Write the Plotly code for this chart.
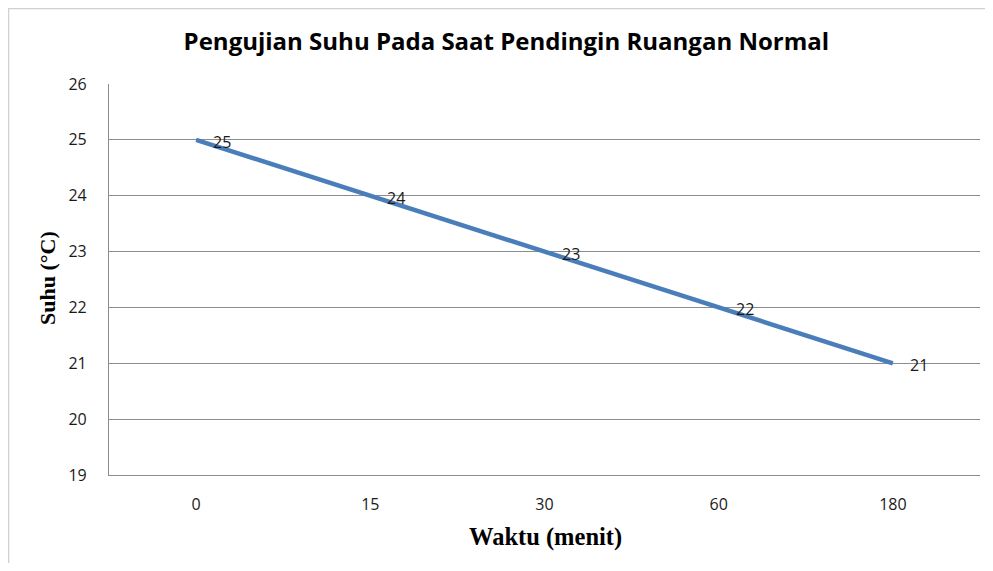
import plotly.graph_objects as go

waktu = ["0", "15", "30", "60", "180"]
suhu = [25, 24, 23, 22, 21]
y_ticks = [19, 20, 21, 22, 23, 24, 25, 26]

# page is rendered with an 8px body margin, so the figure is sized to fit inside
OFF = 8
W, H = 993 - 2 * OFF, 571 - 2 * OFF
L, T = 109 - OFF, 84 - OFF
R = W - (980 - OFF)
B = H - (475 - OFF)
pw, ph = W - L - R, H - T - B


def px(x_page):
    return (x_page - OFF - L) / pw


def py(y_page):
    return (H - B - (y_page - OFF)) / ph


fig = go.Figure()
fig.add_trace(go.Scatter(
    x=waktu, y=suhu, mode="lines",
    line=dict(color="#4A7EBB", width=4.5),
    cliponaxis=False, showlegend=False, hoverinfo="x+y",
))

# data labels (category index positions on the category axis)
for i, yv in enumerate(suhu):
    fig.add_annotation(x=i, y=yv, xref="x", yref="y", text=str(yv), showarrow=False,
                       xanchor="left", yanchor="middle", xshift=15, yshift=-2,
                       font=dict(family="Open Sans, sans-serif", size=16, color="#1a1a1a"))

fig.add_annotation(xref="paper", yref="paper", x=px(545), y=py(537),
                   text="<b>Waktu (menit)</b>", showarrow=False,
                   xanchor="center", yanchor="middle",
                   font=dict(family="Liberation Serif, serif", size=24.5, color="#000000"))
fig.add_annotation(xref="paper", yref="paper", x=px(47), y=py(278),
                   text="<b>Suhu (°C)</b>", showarrow=False, textangle=-90,
                   xanchor="center", yanchor="middle",
                   font=dict(family="Liberation Serif, serif", size=22, color="#000000"))

fig.add_shape(type="rect", xref="paper", yref="paper",
              x0=px(OFF + 0.5), x1=px(1200), y0=py(OFF + 0.5), y1=py(900),
              line=dict(color="#D0D0D0", width=1.5), fillcolor="rgba(0,0,0,0)", layer="below")

fig.update_layout(
    width=W, height=H,
    margin=dict(l=L, r=R, t=T, b=B),
    paper_bgcolor="white", plot_bgcolor="white",
    title=dict(text="<b>Pengujian Suhu Pada Saat Pendingin Ruangan Normal</b>",
               x=(180 + 833) / 2 / 993, xanchor="center",
               y=1 - (42 - OFF) / H, yanchor="middle",
               font=dict(family="Open Sans, sans-serif", size=24, color="#000000")),
    xaxis=dict(
        type="category", range=[-0.5, 4.5], showgrid=False,
        showline=True, linecolor="#8C8C8C", linewidth=1.2,
        tickfont=dict(family="Open Sans, sans-serif", size=16, color="#1a1a1a"),
        ticks="", ticklabelstandoff=15,
    ),
    yaxis=dict(
        range=[19, 26], tickvals=y_ticks, showgrid=True, gridcolor="#8C8C8C", gridwidth=1.2,
        showline=True, linecolor="#8C8C8C", linewidth=1.2, zeroline=False,
        tickfont=dict(family="Open Sans, sans-serif", size=16, color="#1a1a1a"),
        ticks="", ticklabelstandoff=18,
    ),
)

fig.write_html("out.html")
